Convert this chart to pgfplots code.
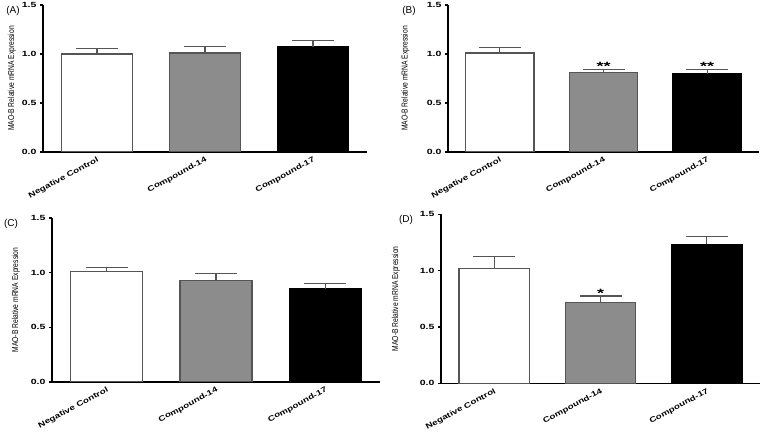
\documentclass[border=0pt]{standalone}
\usepackage{pgfplots}
\pgfplotsset{compat=1.18}
\usepackage{fontspec}
\setmainfont{Liberation Sans}
\definecolor{barGray}{HTML}{8C8C8C}
\definecolor{edgeGray}{HTML}{555555}
\newcommand{\yl}[1]{\scalebox{1.4}[1]{#1}}
\newcommand{\xl}[1]{\scalebox{1.3}[1]{#1}}
\newcommand{\st}[1]{\scalebox{1.5}[1]{#1}}
\pgfplotsset{
  panel/.style={
    scale only axis,
    ymin=0, ymax=1.5, xmin=-0.5, xmax=2.5,
    axis x line*=bottom, axis y line*=left,
    axis line style={line width=1.4pt, -},
    ytick={0,0.5,1,1.5},
    yticklabels={\yl{0.0},\yl{0.5},\yl{1.0},\yl{1.5}},
    yticklabel style={font=\fontsize{7.5}{8}\selectfont\bfseries},
    ytick style={line width=1.2pt, black},
    tick align=outside, major tick length=3pt,
    xtick={0,1,2},
    xticklabels={\xl{Negative Control},\xl{Compound-14},\xl{Compound-17}},
    xtick style={draw=none},
    xticklabel style={rotate=28, anchor=north east, font=\fontsize{7.5}{8}\selectfont\bfseries, inner sep=1pt},
    ylabel={\scalebox{0.78}[1]{MAO-B Relative mRNA Expression}},
    ylabel style={font=\fontsize{8.6}{9}\selectfont, anchor=center},
    bar width=0.66, bar shift=0pt,
  },
  eb/.style={
    error bars/y dir=plus, error bars/y explicit,
    error bars/error mark=|,
    error bars/error bar style={line width=1.2pt, edgeGray},
    error bars/error mark options={mark size=21pt, line width=1.1pt, edgeGray},
  },
  wbar/.style={ybar, fill=white, draw=edgeGray, line width=1.2pt, eb},
  gbar/.style={ybar, fill=barGray, draw=edgeGray, line width=1.2pt, eb},
  kbar/.style={ybar, fill=black, draw=black, line width=1.2pt, eb},
}
\begin{document}
\begin{tikzpicture}[x=1pt,y=1pt]
\useasboundingbox (0,0) rectangle (763,434);
% (A)
\begin{axis}[panel, at={(43pt,282pt)}, anchor=south west, width=324pt, height=147pt,
  ylabel style={at={(axis description cs:-0.096,0.5)}}]
\addplot[wbar] coordinates {(0,1.00) +- (0,0.055)};
\addplot[gbar] coordinates {(1,1.01) +- (0,0.07)};
\addplot[kbar] coordinates {(2,1.075) +- (0,0.065)};
\end{axis}
% (B)
\begin{axis}[panel, at={(448pt,282pt)}, anchor=south west, width=311pt, height=147pt,
  ylabel style={at={(axis description cs:-0.137,0.5)}}]
\addplot[wbar] coordinates {(0,1.01) +- (0,0.06)};
\addplot[gbar] coordinates {(1,0.81) +- (0,0.035)};
\addplot[kbar] coordinates {(2,0.80) +- (0,0.045)};
\node[anchor=base, font=\fontsize{12}{12}\selectfont\bfseries, inner sep=0pt] at (axis cs:1,0.83) {\st{**}};
\node[anchor=base, font=\fontsize{12}{12}\selectfont\bfseries, inner sep=0pt] at (axis cs:2,0.83) {\st{**}};
\end{axis}
% (C)
\begin{axis}[panel, at={(52pt,52pt)}, anchor=south west, width=328pt, height=164pt,
  ylabel style={at={(axis description cs:-0.11,0.5)}}]
\addplot[wbar] coordinates {(0,1.01) +- (0,0.04)};
\addplot[gbar] coordinates {(1,0.93) +- (0,0.065)};
\addplot[kbar] coordinates {(2,0.855) +- (0,0.05)};
\end{axis}
% (D)
\begin{axis}[panel, at={(441pt,50.7pt)}, anchor=south west, width=319pt, height=169pt,
  ylabel style={at={(axis description cs:-0.141,0.5)}}]
\addplot[wbar] coordinates {(0,1.02) +- (0,0.105)};
\addplot[gbar] coordinates {(1,0.715) +- (0,0.06)};
\addplot[kbar] coordinates {(2,1.235) +- (0,0.065)};
\node[anchor=base, font=\fontsize{12}{12}\selectfont\bfseries, inner sep=0pt] at (axis cs:1,0.765) {\st{*}};
\end{axis}
\node[font=\fontsize{10}{10}\selectfont] at (13,423) {(A)};
\node[font=\fontsize{10}{10}\selectfont] at (409,423) {(B)};
\node[font=\fontsize{10}{10}\selectfont] at (11,210) {(C)};
\node[font=\fontsize{10}{10}\selectfont] at (406,214) {(D)};
\end{tikzpicture}
\end{document}
